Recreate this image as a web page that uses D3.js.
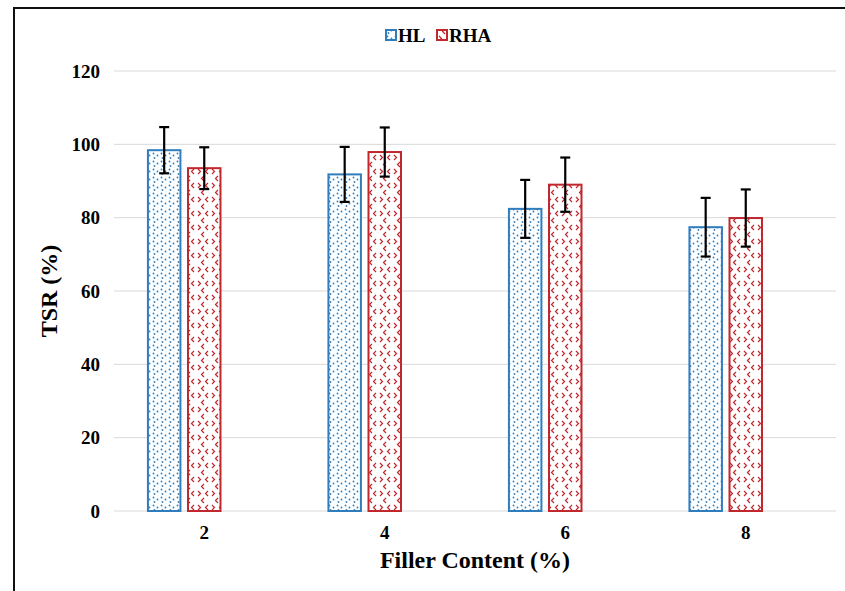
<!DOCTYPE html>
<html><head><meta charset="utf-8">
<script src="https://cdn.jsdelivr.net/npm/d3@7/dist/d3.min.js"></script>
<style>body{margin:0;background:#fff;} svg{display:block;} svg text{font-family:"Liberation Serif","Times New Roman",serif !important;font-weight:bold;fill:#000;}</style>
</head><body>
<svg id="c" width="845" height="591"></svg>
<script>
const categories = ["2", "4", "6", "8"];
const seriesNames = ["HL", "RHA"];
const hlValues = [98.4, 91.8, 82.4, 77.4];
const hlErrors = [6.3, 7.5, 7.9, 8.0];
const rhaValues = [93.5, 97.9, 89.0, 79.9];
const rhaErrors = [5.7, 6.7, 7.4, 7.8];
const yTicks = [0, 20, 40, 60, 80, 100, 120];
const colors = {HL: "#2f7dbd", RHA: "#c0282d"};

const svg = d3.select("#c");
const W = 845, H = 591;
const m = {left: 114, right: 9, top: 71, bottom: 80};
const x = d3.scaleBand().domain(categories).range([m.left, W - m.right]);
const y = d3.scaleLinear().domain([0, 120]).range([H - m.bottom, m.top]);

// patterns
const defs = svg.append("defs");
const pHL = defs.append("pattern").attr("id", "pHL").attr("patternUnits", "userSpaceOnUse").attr("width", 8).attr("height", 8);
pHL.append("rect").attr("width", 8).attr("height", 8).attr("fill", "#fff");
pHL.append("circle").attr("cx", 1.5).attr("cy", 1.5).attr("r", 0.9).attr("fill", colors.HL);
pHL.append("circle").attr("cx", 5.5).attr("cy", 3.5).attr("r", 0.9).attr("fill", colors.HL);
pHL.append("circle").attr("cx", 2.5).attr("cy", 6).attr("r", 0.9).attr("fill", colors.HL);
const pR = defs.append("pattern").attr("id", "pRHA").attr("patternUnits", "userSpaceOnUse").attr("width", 14).attr("height", 14);
pR.append("rect").attr("width", 14).attr("height", 14).attr("fill", "#fff");
pR.append("path").attr("d", "M2,1 L4.5,3.5 L2,6 M12,1 L9.5,3.5 L12,6 M8,8 L5.5,10.5 L8,13").attr("stroke", colors.RHA).attr("stroke-width", 1.2).attr("fill", "none");

// border
svg.append("path").attr("d", `M14,${H} L14,8 L${W},8`).attr("fill", "none").attr("stroke", "#111").attr("stroke-width", 2);

// grid
svg.append("g").selectAll("line").data(yTicks).join("line")
  .attr("x1", m.left).attr("x2", W - m.right)
  .attr("y1", d => y(d)).attr("y2", d => y(d))
  .attr("stroke", "#d9d9d9").attr("stroke-width", 1);

// y axis labels
const yAxis = d3.axisLeft(y).tickValues(yTicks).tickSize(0).tickPadding(14);
const gy = svg.append("g").attr("transform", `translate(${m.left},0)`).call(yAxis);
gy.select(".domain").remove();
gy.selectAll("text").attr("font-size", 19);

// x axis labels
const xAxis = d3.axisBottom(x).tickSize(0).tickPadding(15);
const gx = svg.append("g").attr("transform", `translate(0,${y(0)})`).call(xAxis);
gx.select(".domain").remove();
gx.selectAll("text").attr("font-size", 19);

const step = x.bandwidth();
const barW = step * 0.18;
const offsets = {HL: -step * 0.222, RHA: 0};
const data = [];
categories.forEach((c, i) => {
  data.push({c, s: "HL", v: hlValues[i], e: hlErrors[i]});
  data.push({c, s: "RHA", v: rhaValues[i], e: rhaErrors[i]});
});
const cx = d => x(d.c) + step / 2 + offsets[d.s];

svg.append("g").selectAll("rect").data(data).join("rect")
  .attr("x", d => cx(d) - barW / 2).attr("width", barW)
  .attr("y", d => y(d.v)).attr("height", d => y(0) - y(d.v))
  .attr("fill", d => `url(#p${d.s})`).attr("stroke", d => colors[d.s]).attr("stroke-width", 2);

// error bars
const eg = svg.append("g").attr("stroke", "#000").attr("stroke-width", 2.2);
data.forEach(d => {
  const X = cx(d);
  eg.append("line").attr("x1", X).attr("x2", X).attr("y1", y(d.v + d.e)).attr("y2", y(d.v - d.e));
  eg.append("line").attr("x1", X - 5).attr("x2", X + 5).attr("y1", y(d.v + d.e)).attr("y2", y(d.v + d.e));
  eg.append("line").attr("x1", X - 5).attr("x2", X + 5).attr("y1", y(d.v - d.e)).attr("y2", y(d.v - d.e));
});

// axis titles
svg.append("text").attr("x", 475).attr("y", 568).attr("text-anchor", "middle")
  .attr("font-size", 24).text("Filler Content (%)");
svg.append("text").attr("transform", `translate(57,${(y(0) + y(120)) / 2}) rotate(-90)`).attr("text-anchor", "middle")
  .attr("font-size", 24).text("TSR (%)");

// legend
const lg = svg.append("g").attr("transform", "translate(386,35)");
const items = [{s: "HL", dx: 0}, {s: "RHA", dx: 51}];
items.forEach(it => {
  const g = lg.append("g").attr("transform", `translate(${it.dx},0)`);
  g.append("rect").attr("x", 0).attr("y", -5).attr("width", 10).attr("height", 10)
    .attr("fill", `url(#p${it.s})`).attr("stroke", colors[it.s]).attr("stroke-width", 2);
  g.append("text").attr("x", 12).attr("y", 6.5).attr("font-size", 19).text(it.s);
});
</script>
</body></html>
